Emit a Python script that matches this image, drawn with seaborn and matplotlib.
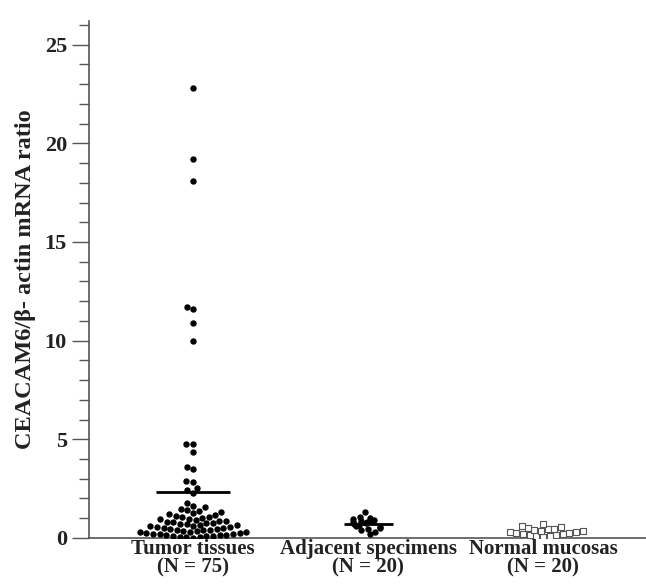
import numpy as np
import pandas as pd
import matplotlib
matplotlib.use('Agg')
import matplotlib.pyplot as plt
import seaborn as sns
from matplotlib.ticker import MultipleLocator

# CEACAM6 / beta-actin mRNA ratio per group
categories = ['Tumor tissues\n(N = 75)', 'Adjacent specimens\n(N = 20)', 'Normal mucosas\n(N = 20)']

tumor = [22.8, 19.2, 18.1, 11.7, 11.6, 10.9, 10.0,
         4.77, 4.77, 4.37, 3.6, 3.5, 2.9, 2.84, 2.54, 2.44, 2.28,
         0.01, 0.03, 0.04, 0.06, 0.08, 0.1, 0.11, 0.13, 0.15, 0.17,
         0.19, 0.2, 0.22, 0.24, 0.26, 0.28, 0.3, 0.32, 0.34, 0.36,
         0.38, 0.4, 0.42, 0.45, 0.47, 0.49, 0.51, 0.54, 0.56, 0.58,
         0.61, 0.63, 0.66, 0.68, 0.71, 0.74, 0.76, 0.79, 0.82, 0.85,
         0.88, 0.91, 0.94, 0.98, 1.01, 1.05, 1.08, 1.12, 1.16, 1.2,
         1.25, 1.3, 1.35, 1.41, 1.47, 1.55, 1.64, 1.78]
adjacent = [0.2, 0.3, 0.38, 0.45, 0.5, 0.55, 0.6, 0.65, 0.7, 0.74,
            0.78, 0.8, 0.84, 0.88, 0.9, 0.93, 0.96, 1.0, 1.05, 1.3]
normal = [0.05, 0.08, 0.1, 0.12, 0.15, 0.18, 0.2, 0.23, 0.25, 0.28,
          0.3, 0.33, 0.36, 0.4, 0.43, 0.47, 0.5, 0.55, 0.6, 0.68]

df = pd.DataFrame({
    'group': [categories[0]] * len(tumor) + [categories[1]] * len(adjacent) + [categories[2]] * len(normal),
    'ratio': tumor + adjacent + normal,
})

sns.set_style('white')
plt.rcParams['font.family'] = ['Liberation Serif', 'DejaVu Serif']

fig = plt.figure(figsize=(6.46, 5.84), dpi=100)
ax = fig.add_axes([0.138, 0.079, 0.862, 0.885])

sns.swarmplot(data=df[df.group == categories[0]], x='group', y='ratio', order=categories,
              color='black', size=4.6, ax=ax)
np.random.seed(3)
sns.stripplot(data=df[df.group == categories[1]], x='group', y='ratio', order=categories,
              color='black', size=4.6, jitter=0.09, ax=ax)
sns.swarmplot(data=df[df.group == categories[2]], x='group', y='ratio', order=categories,
              color='white', edgecolor='#555555', linewidth=0.8, marker='s', size=3.8, ax=ax)

# mean lines
ax.hlines(np.mean(tumor), -0.21, 0.21, color='black', lw=2)
ax.hlines(np.mean(adjacent), 0.86, 1.14, color='black', lw=2)

ax.set_xlim(-0.594, 2.589)
ax.set_ylim(0, 26.2)
ax.yaxis.set_major_locator(MultipleLocator(5))
ax.yaxis.set_minor_locator(MultipleLocator(1))

sns.despine(ax=ax)
for s in ['left', 'bottom']:
    ax.spines[s].set_color('#555555')
    ax.spines[s].set_linewidth(1.2)

ax.tick_params(axis='y', which='major', direction='out', length=12, width=1, color='#555555',
               left=True, labelsize=16, pad=4)
ax.tick_params(axis='y', which='minor', direction='out', length=7, width=1, color='#555555', left=True)
ax.tick_params(axis='x', length=0, labelsize=15, pad=1)
for lab in ax.get_yticklabels() + ax.get_xticklabels():
    lab.set_fontweight('bold')
    lab.set_color('#222222')
for lab in ax.get_xticklabels():
    lab.set_linespacing(0.9)

ax.set_xlabel('')
ax.set_ylabel('CEACAM6/β- actin mRNA ratio', fontsize=17.5, fontweight='bold', color='#222222', labelpad=6)

fig.savefig('out.png', dpi=100)
